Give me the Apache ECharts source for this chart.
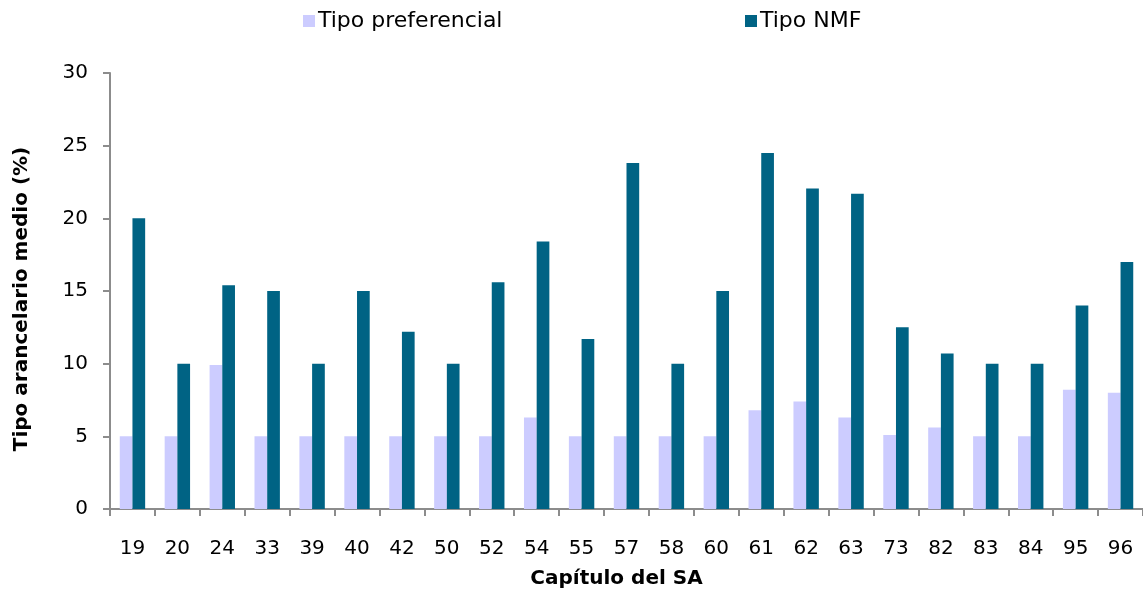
<!DOCTYPE html>
<html>
<head>
<meta charset="utf-8">
<script src="https://cdn.jsdelivr.net/npm/echarts@6/dist/echarts.min.js"></script>
<style>
html,body{margin:0;padding:0;background:#fff;}
#chart{width:1143px;height:594px;}
</style>
</head>
<body>
<div id="chart"></div>
<script>
const categories = ['19','20','24','33','39','40','42','50','52','54','55','57','58','60','61','62','63','73','82','83','84','95','96'];
const preferencial = [5,5,9.9,5,5,5,5,5,5,6.3,5,5,5,5,6.8,7.4,6.3,5.1,5.6,5,5,8.2,8];
const nmf = [20,10,15.4,15,10,15,12.2,10,15.6,18.4,11.7,23.8,10,15,24.5,22.05,21.7,12.5,10.7,10,10,14,17];
const yTicks = [0,5,10,15,20,25,30];

const font = 'DejaVu Sans, Verdana, sans-serif';
const axisColor = '#8c8c8c';
const chart = echarts.init(document.getElementById('chart'));
chart.setOption({
  animation: false,
  backgroundColor: '#ffffff',
  legend: [
    {left: 303, top: 10, padding: 0, itemWidth: 12, itemHeight: 12,
     textStyle: {fontFamily: font, fontSize: 22, color: '#000', padding: [0, 0, 0, -2]},
     data: [{name: 'Tipo preferencial', icon: 'rect'}]},
    {left: 745, top: 10, padding: 0, itemWidth: 12, itemHeight: 12,
     textStyle: {fontFamily: font, fontSize: 22, color: '#000', padding: [0, 0, 0, -2]},
     data: [{name: 'Tipo NMF', icon: 'rect'}]}
  ],
  grid: {left: 110, right: 0, top: 73, bottom: 74, containLabel: false},
  xAxis: {
    type: 'category',
    data: categories,
    name: 'Capítulo del SA',
    nameLocation: 'middle',
    nameGap: 60,
    nameTextStyle: {fontFamily: font, fontSize: 20, fontWeight: 'bold', color: '#000', padding: [0, 20, 0, 0]},
    axisLine: {lineStyle: {color: axisColor, width: 2}},
    axisTick: {show: true, length: 7, lineStyle: {color: axisColor, width: 2}, alignWithLabel: false},
    axisLabel: {fontFamily: font, fontSize: 20, color: '#000', margin: 30, interval: 0}
  },
  yAxis: {
    type: 'value',
    min: 0, max: 30, interval: 5,
    name: 'Tipo arancelario medio (%)',
    nameLocation: 'middle',
    nameGap: 78,
    nameTextStyle: {fontFamily: font, fontSize: 20, fontWeight: 'bold', color: '#000', padding: [0, 16, 0, 0]},
    axisLine: {show: true, lineStyle: {color: axisColor, width: 2}},
    axisTick: {show: true, length: 7, lineStyle: {color: axisColor, width: 2}},
    axisLabel: {fontFamily: font, fontSize: 20, color: '#000', margin: 22,
      formatter: v => yTicks.includes(v) ? String(v) : ''},
    splitLine: {show: false}
  },
  series: [
    {name: 'Tipo preferencial', type: 'bar', data: preferencial, barWidth: 12.7, barGap: '0%',
     itemStyle: {color: '#CCCCFF'}},
    {name: 'Tipo NMF', type: 'bar', data: nmf, barWidth: 12.7, barGap: '0%',
     itemStyle: {color: '#006384'}}
  ]
});
</script>
</body>
</html>
